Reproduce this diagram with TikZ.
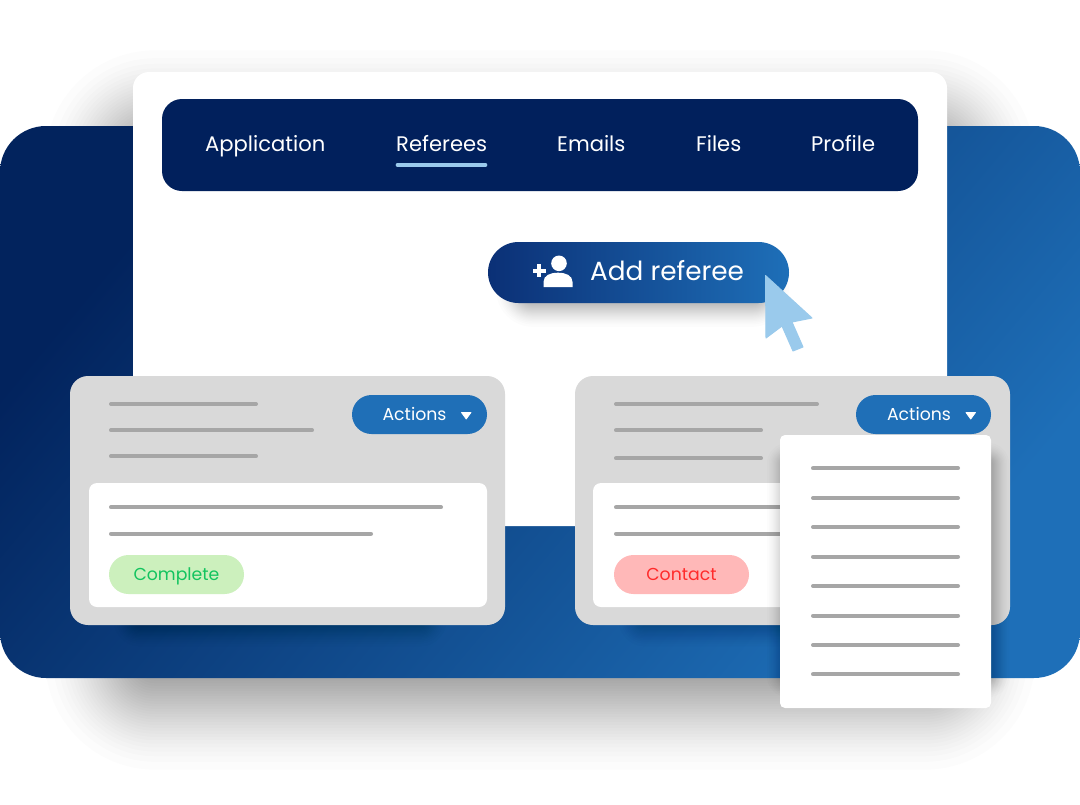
\documentclass[tikz,border=0pt]{standalone}
\usepackage{fontspec}
\setmainfont{Poppins}
\definecolor{navy}{HTML}{02235D}
\definecolor{barnavy}{HTML}{01205C}
\definecolor{midblue}{HTML}{1E6FB8}
\definecolor{btnstart}{HTML}{0B3076}
\definecolor{pill}{HTML}{1F6FB7}
\definecolor{sky}{HTML}{9ACAEC}
\definecolor{card}{HTML}{D9D9D9}
\definecolor{linegray}{HTML}{A6A6A6}
\definecolor{okfill}{HTML}{CCF0BD}
\definecolor{oktext}{HTML}{13C45F}
\definecolor{badfill}{HTML}{FFB8B8}
\definecolor{badtext}{HTML}{FF2B2B}
\newcommand\softshadow[7]{% x1 y1 x2 y2 radius spread layers (smoothstep falloff, 1% each)
  \foreach \i in {1,...,#7}{
    \pgfmathsetmacro\dd{2*#6*sin(asin(1-2*(\i-0.5)/#7)/3)}
    \pgfmathsetmacro\rr{max(#5+\dd,1)}
    \fill[black,opacity=0.01,rounded corners=\rr pt] ({#1-\dd},{#2-\dd}) rectangle ({#3+\dd},{#4+\dd});
  }}
\tikzset{
  bar/.style={draw=linegray,line width=4pt,line cap=round},
  label/.style={text=white,inner sep=0pt,anchor=base west,font=\fontsize{21.1}{26}\selectfont},
  small/.style={inner sep=0pt,anchor=base,font=\fontsize{17.3}{20}\selectfont},
}
\begin{document}
\begin{tikzpicture}[x=1pt,y=-1pt]
\useasboundingbox (0,0) rectangle (1080,804);
\fill[white] (0,0) rectangle (1080,804);
% big soft shadow behind everything
\softshadow{115}{120}{965}{700}{40}{80}{42}
% big panel
\shade[left color=navy,right color=midblue,shading angle=50,rounded corners=46pt] (0,126) rectangle (1080,678);
% window
\fill[white,rounded corners=16pt] (133,72) rectangle (947,526);
\fill[barnavy,rounded corners=20pt] (162,99) rectangle (918,191);
\node[label] (napp) at (205,151) {Application};
\node[label] (nref) at (396,151) {Referees};
\node[label] (nem) at (557,151) {Emails};
\node[label] (nfil) at (696,151) {Files};
\node[label] (npro) at (811,151) {Profile};
\draw[sky,line width=3.6pt,line cap=round] (397.5,165) -- (485.5,165);
% add referee
\softshadow{515}{270}{770}{308}{18}{22}{34}
\shade[left color=btnstart,right color=midblue,rounded corners=30.5pt] (488,242) rectangle (789,303);
\node[label,font=\fontsize{26.3}{30}\selectfont] (nadd) at (590,280) {Add referee};
\fill[white] (559,263.3) circle (7.8);
\fill[white] (543.5,287) -- (543.5,282) .. controls (543.5,275.5) and (550,272.7) .. (558,272.7) .. controls (566,272.7) and (572.5,275.5) .. (572.5,282) -- (572.5,287) -- cycle;
\fill[white] (532.5,269) rectangle (545.5,272.6);
\fill[white] (537.2,264.3) rectangle (540.8,277.3);
% cursor
\fill[sky,draw=sky,line width=1pt,line join=round] (765.5,275.5) -- (812,318) -- (792,322) -- (803,347) -- (793,351) -- (782,326) -- (766,338) -- cycle;
% left card
\softshadow{130}{600}{430}{630}{10}{20}{22}
\fill[card,rounded corners=18pt] (70,376) rectangle (505,625);
\draw[bar] (111,404) -- (256,404);
\draw[bar] (111,430.3) -- (312,430.3);
\draw[bar] (111,456.3) -- (256,456.3);
\fill[pill,rounded corners=19.5pt] (352,395) rectangle (487,434);
\node[small,text=white] (act1) at (414.5,420) {Actions};
\fill[white,draw=white,line width=.8pt,line join=round] (461.5,412.5) -- (471,412.5) -- (466.2,419) -- cycle;
\fill[white,rounded corners=8pt] (89,483) rectangle (487,607);
\draw[bar] (111,507.3) -- (441,507.3);
\draw[bar] (111,533.7) -- (371,533.7);
\fill[okfill,rounded corners=19.5pt] (109,555) rectangle (244,594);
\node[small,text=oktext] (comp) at (176.5,580) {Complete};
% right card
\softshadow{635}{600}{935}{630}{10}{20}{22}
\fill[card,rounded corners=18pt] (575,376) rectangle (1010,625);
\draw[bar] (616,404) -- (817,404);
\draw[bar] (616,430.3) -- (761,430.3);
\draw[bar] (616,458.3) -- (761,458.3);
\fill[pill,rounded corners=19.5pt] (856,395) rectangle (991,434);
\node[small,text=white] (act2) at (919,420) {Actions};
\fill[white,draw=white,line width=.8pt,line join=round] (966,412.5) -- (975.5,412.5) -- (970.7,419) -- cycle;
\fill[white,rounded corners=8pt] (593,483) rectangle (991,607);
\draw[bar] (616,507.3) -- (790,507.3);
\draw[bar] (616,533.7) -- (790,533.7);
\fill[badfill,rounded corners=19.5pt] (614,555) rectangle (749,594);
\node[small,text=badtext] (cont) at (681.5,580) {Contact};
% dropdown
\softshadow{782}{458}{994}{682}{6}{18}{30}
\fill[white,rounded corners=5pt] (780,435) rectangle (991,708);
\foreach \yy in {468.3,498,527,556.7,586,615.7,645,674.3}
  \draw[bar] (813,\yy) -- (958,\yy);
\end{tikzpicture}
\end{document}
